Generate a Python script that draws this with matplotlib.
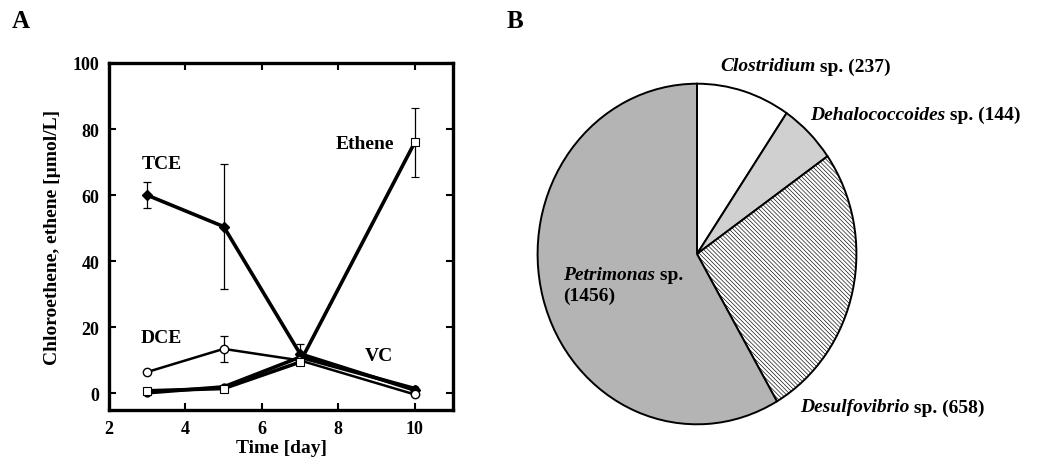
import numpy as np
import matplotlib
matplotlib.use("Agg")
from matplotlib import pyplot as plt

plt.rcParams['font.family'] = ['Liberation Serif', 'DejaVu Serif']
plt.rcParams['font.weight'] = 'bold'
plt.rcParams['hatch.linewidth'] = 0.45
plt.rcParams['hatch.color'] = '#a0a0a0'

# panel A data
days = [3, 5, 7, 10]
tce = [60, 50.5, 12, 1.0]
tce_err = [4, 19, 3, 0]
dce = [6.5, 13.5, 10, -0.3]
dce_err = [0, 4, 0, 0]
vc = [0.2, 2.0, 11, 1.5]
ethene = [0.8, 1.5, 9.5, 76]
ethene_err = [0, 0, 0, 10.5]

# panel B data
species = ["Clostridium", "Dehalococcoides", "Desulfovibrio", "Petrimonas"]
counts = [237, 144, 658, 1456]
colors = ["white", "#d0d0d0", "white", "#b4b4b4"]
hatches = [None, None, "\\" * 8, None]

W, H = 1063, 460
fig = plt.figure(figsize=(W / 100, H / 100), dpi=100)

def px(x0, y0, x1, y1):
    return [x0 / W, 1 - y1 / H, (x1 - x0) / W, (y1 - y0) / H]

ax = fig.add_axes(px(109, 64, 453, 411))
ax.errorbar(days, tce, yerr=tce_err, color='black', lw=2.6, marker='D', ms=5,
            mfc='black', capsize=3, elinewidth=0.9, capthick=0.9, zorder=3)
ax.errorbar(days, vc, color='black', lw=2.6, marker='o', ms=5,
            mfc='black', zorder=3)
ax.errorbar(days, dce, yerr=dce_err, color='black', lw=1.8, marker='o', ms=6,
            mfc='white', capsize=3, elinewidth=0.9, capthick=0.9, zorder=4)
ax.errorbar(days, ethene, yerr=ethene_err, color='black', lw=2.6, marker='s', ms=6,
            mfc='white', mew=0.8, capsize=3, elinewidth=0.9, capthick=0.9, zorder=5)

ax.set_xlim(2, 11)
ax.set_ylim(-5, 100)
ax.set_xticks([2, 4, 6, 8, 10])
ax.set_yticks([0, 20, 40, 60, 80, 100])
ax.tick_params(direction='in', top=True, right=True, length=5, width=1.5,
               labelsize=13, pad=7)
for s in ax.spines.values():
    s.set_linewidth(2.4)
ax.set_xlabel("Time [day]", fontsize=14, fontweight='bold', labelpad=2)
ax.set_ylabel("Chloroethene, ethene [µmol/L]", fontsize=14, fontweight='bold', labelpad=8)

lab = dict(fontsize=14, fontweight='bold', ha='center', va='center')
ax.text(3.38, 69.5, "TCE", **lab)
ax.text(3.38, 17, "DCE", **lab)
ax.text(8.7, 75.5, "Ethene", **lab)
ax.text(9.06, 11.5, "VC", **lab)

fig.text(12 / W, 1 - 22 / H, "A", fontsize=18, fontweight='bold', va='center')
fig.text(507 / W, 1 - 22 / H, "B", fontsize=18, fontweight='bold', va='center')

# panel B
pax = fig.add_axes(px(536, 83, 858, 427))
wedges, _ = pax.pie(counts, colors=colors, startangle=90, counterclock=False,
                    wedgeprops=dict(edgecolor='black', linewidth=1.4))
for w, h in zip(wedges, hatches):
    if h:
        w.set_hatch(h)
pax.set_aspect('auto')
pax.set_xlim(-1.01, 1.01)
pax.set_ylim(-1.01, 1.01)

label_pos = [(720, 67, ["Clostridium", " sp. (237)"]),
             (810, 115, ["Dehalococcoides", " sp. (144)"]),
             (800, 408, ["Desulfovibrio", " sp. (658)"]),
             (563, 275, ["Petrimonas", " sp."])]
for x, y, parts in label_pos:
    t = fig.text(x / W, 1 - y / H, parts[0], fontsize=14, fontweight='bold',
                 style='italic', va='center', ha='left')
    fig.canvas.draw()
    bb = t.get_window_extent()
    fig.text(bb.x1 / W, 1 - y / H, parts[1], fontsize=14, fontweight='bold',
             va='center', ha='left')
fig.text(563 / W, 1 - 296 / H, "(1456)", fontsize=14, fontweight='bold',
         va='center', ha='left')

fig.savefig("out.png", dpi=100)
